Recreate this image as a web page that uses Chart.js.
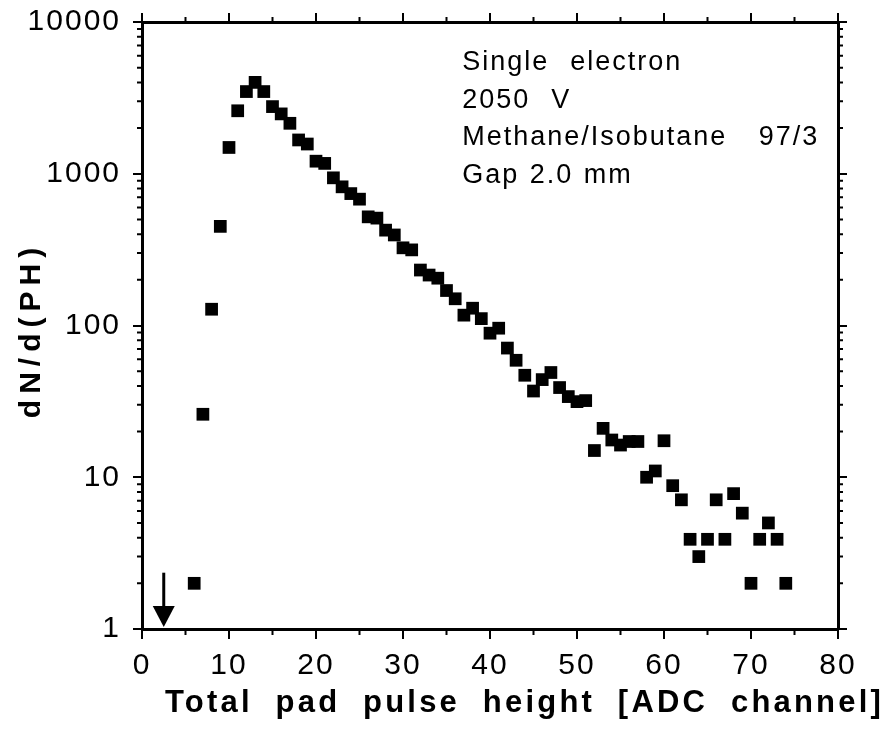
<!DOCTYPE html>
<html>
<head>
<meta charset="utf-8">
<script src="https://cdn.jsdelivr.net/npm/chart.js@4"></script>
<style>
  html, body { margin: 0; padding: 0; background: #fff; }
  canvas { display: block; }
</style>
</head>
<body>
<canvas id="phChart" width="894" height="729"></canvas>
<script>
// pulse height spectrum, single electron
const channels = [6, 7, 8, 9, 10, 11, 12, 13, 14, 15, 16, 17, 18, 19, 20, 21, 22, 23, 24, 25,
    26, 27, 28, 29, 30, 31, 32, 33, 34, 35, 36, 37, 38, 39, 40, 41, 42, 43, 44, 45,
    46, 47, 48, 49, 50, 51, 52, 53, 54, 55, 56, 57, 58, 59, 60, 61, 62, 63, 64, 65,
    66, 67, 68, 69, 70, 71, 72, 73, 74];
const counts = [2, 26, 128, 450, 1490, 2600, 3480, 4000, 3480, 2770, 2480, 2150, 1670, 1570, 1210, 1170, 940, 820, 740, 680,
    520, 510, 425, 395, 325, 315, 232, 215, 205, 170, 150, 117, 130, 111, 89, 96, 71, 59, 47, 37,
    44, 49, 39, 34, 31.5, 32, 15, 21, 17.6, 16.3, 17.2, 17.2, 10, 11, 17.4, 8.8, 7.1, 3.9, 3.0, 3.9,
    7.1, 3.9, 7.8, 5.8, 2, 3.9, 5, 3.9, 2];

const xTicks = [0, 10, 20, 30, 40, 50, 60, 70, 80];
const xMinorTicks = [5, 15, 25, 35, 45, 55, 65, 75];
const yTicks = [1, 10, 100, 1000, 10000];
const infoLines = ['Single  electron', '2050  V', 'Methane/Isobutane   97/3', 'Gap 2.0 mm'];
const thresholdChannel = 2.5;

const xTitle = 'Total pad pulse height [ADC channel]';
const yTitle = 'dN/d(PH)';

const points = channels.map((c, i) => ({ x: c, y: counts[i] }));

const FONT = "'Liberation Sans', Arial, sans-serif";

function logTicks(scale) {
    scale.ticks = yTicks.map(v => ({ value: v }));
}

function noPad(scale) {
    scale.paddingTop = 0;
    scale.paddingBottom = 0;
    scale.paddingLeft = 0;
    scale.paddingRight = 0;
}

// minor ticks, arrow, titles and text box
const extrasPlugin = {
    id: 'extras',
    beforeDraw(chart) {
        chart.ctx.letterSpacing = '2px';
    },
    afterDraw(chart) {
        const ctx = chart.ctx;
        const xs = chart.scales.x;
        const ys = chart.scales.y;
        const area = chart.chartArea;
        ctx.save();
        ctx.letterSpacing = '0px';
        ctx.strokeStyle = '#000';
        ctx.lineWidth = 2;

        // minor x ticks
        ctx.beginPath();
        xMinorTicks.forEach(v => {
            const px = xs.getPixelForValue(v);
            ctx.moveTo(px, area.bottom);
            ctx.lineTo(px, area.bottom + 6);
            ctx.moveTo(px, area.top);
            ctx.lineTo(px, area.top - 5);
        });
        // minor y ticks
        for (let d = 0; d < yTicks.length - 1; d++) {
            for (let m = 2; m <= 9; m++) {
                const py = ys.getPixelForValue(yTicks[d] * m);
                ctx.moveTo(area.left, py);
                ctx.lineTo(area.left - 5, py);
                ctx.moveTo(area.right, py);
                ctx.lineTo(area.right + 5, py);
            }
        }
        ctx.stroke();

        // threshold arrow
        const ax = xs.getPixelForValue(thresholdChannel);
        const aTop = ys.getPixelForValue(2.35);
        const aTip = ys.getPixelForValue(1) - 2;
        ctx.lineWidth = 3;
        ctx.beginPath();
        ctx.moveTo(ax, aTop);
        ctx.lineTo(ax, aTip - 10);
        ctx.stroke();
        ctx.fillStyle = '#000';
        ctx.beginPath();
        ctx.moveTo(ax - 11, aTip - 21);
        ctx.lineTo(ax + 11, aTip - 21);
        ctx.lineTo(ax, aTip);
        ctx.closePath();
        ctx.fill();

        // text box
        ctx.font = '27px ' + FONT;
        ctx.letterSpacing = '2px';
        ctx.wordSpacing = '1px';
        ctx.textAlign = 'left';
        ctx.textBaseline = 'alphabetic';
        const tx = xs.getPixelForValue(36.8);
        infoLines.forEach((line, i) => {
            ctx.fillText(line, tx, area.top + 48 + i * 37.7);
        });

        // x title
        ctx.font = 'bold 31px ' + FONT;
        ctx.letterSpacing = '3.2px';
        ctx.wordSpacing = '11px';
        ctx.fillText(xTitle, 165, 712);

        // y title
        ctx.save();
        ctx.translate(40, 330);
        ctx.rotate(-Math.PI / 2);
        ctx.font = 'bold 30px ' + FONT;
        ctx.letterSpacing = '6px';
        ctx.wordSpacing = '0px';
        ctx.textAlign = 'center';
        ctx.fillText(yTitle, 0, 0);
        ctx.restore();

        ctx.restore();
    }
};

const tickFont = { family: FONT, size: 30 };

new Chart(document.getElementById('phChart'), {
    type: 'scatter',
    data: {
        datasets: [{
            data: points,
            pointStyle: 'rect',
            pointRadius: 9,
            backgroundColor: '#000',
            borderColor: '#000',
            borderWidth: 0
        }]
    },
    options: {
        responsive: false,
        animation: false,
        devicePixelRatio: 1,
        layout: { padding: 0 },
        plugins: {
            legend: { display: false },
            tooltip: { enabled: false }
        },
        scales: {
            x: {
                type: 'linear',
                position: 'bottom',
                min: 0,
                max: 80,
                afterBuildTicks: s => { s.ticks = xTicks.map(v => ({ value: v })); },
                afterFit: s => { s.height = 100; noPad(s); },
                ticks: { color: '#000', font: tickFont, padding: 9, maxRotation: 0 },
                grid: { drawOnChartArea: false, tickLength: 10, color: '#000', lineWidth: 2 },
                border: { color: '#000', width: 3 }
            },
            x2: {
                type: 'linear',
                position: 'top',
                min: 0,
                max: 80,
                afterBuildTicks: s => { s.ticks = xTicks.map(v => ({ value: v })); },
                afterFit: s => { s.height = 22; noPad(s); },
                ticks: { display: false },
                grid: { drawOnChartArea: false, tickLength: 9, color: '#000', lineWidth: 2 },
                border: { color: '#000', width: 3 }
            },
            y: {
                type: 'logarithmic',
                position: 'left',
                min: 1,
                max: 10000,
                afterBuildTicks: logTicks,
                afterFit: s => { s.width = 142; noPad(s); },
                ticks: { color: '#000', font: tickFont, padding: 12, callback: v => String(v) },
                grid: { drawOnChartArea: false, tickLength: 9, color: '#000', lineWidth: 2 },
                border: { color: '#000', width: 3 }
            },
            y2: {
                type: 'logarithmic',
                position: 'right',
                min: 1,
                max: 10000,
                afterBuildTicks: logTicks,
                afterFit: s => { s.width = 56; noPad(s); },
                ticks: { display: false },
                grid: { drawOnChartArea: false, tickLength: 9, color: '#000', lineWidth: 2 },
                border: { color: '#000', width: 3 }
            }
        }
    },
    plugins: [extrasPlugin]
});
</script>
</body>
</html>
